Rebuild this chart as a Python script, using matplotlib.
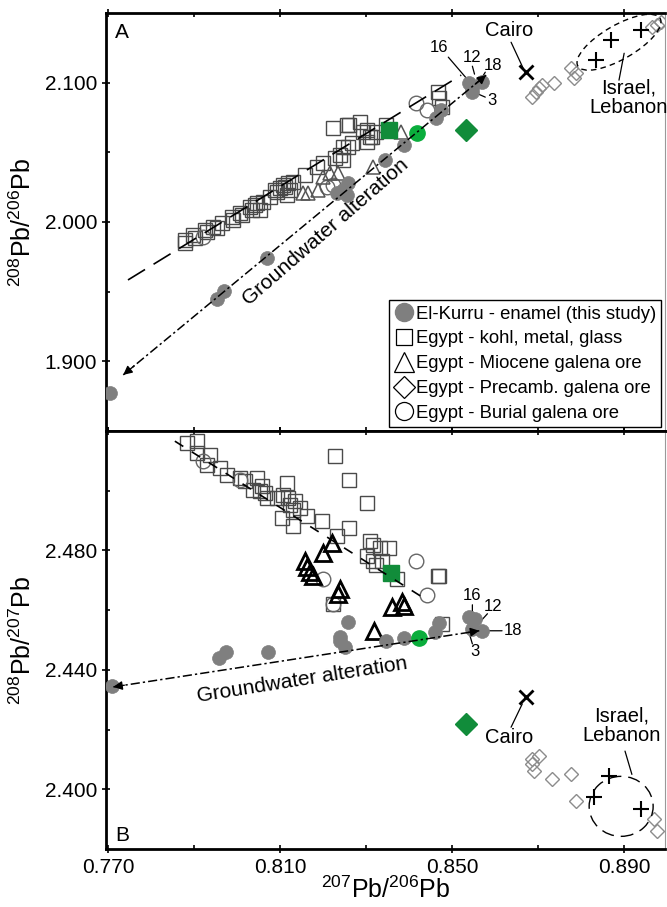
import matplotlib.pyplot as plt
import matplotlib.transforms as mtransforms
from matplotlib.patches import Ellipse
from matplotlib.lines import Line2D

plt.rcParams['font.family'] = ['Liberation Sans', 'DejaVu Sans']
plt.rcParams['mathtext.fontset'] = 'custom'
plt.rcParams['mathtext.rm'] = 'Liberation Sans'
plt.rcParams['mathtext.default'] = 'regular'

# ---------------- Panel A: 208Pb/206Pb mot 207Pb/206Pb ----------------
A_kurru_x = [0.7705, 0.7953, 0.7969, 0.8069, 0.8231, 0.8255, 0.8257, 0.8245, 0.8343, 0.8389,
             0.8463, 0.8475, 0.8540, 0.8547, 0.8570, 0.8545]
A_kurru_y = [1.8774, 1.9448, 1.9505, 1.9742, 2.0208, 2.0194, 2.0280, 2.0229, 2.0444, 2.0552,
             2.0746, 2.0803, 2.0996, 2.0961, 2.1004, 2.0932]

A_kohl_x = [0.7879, 0.7879, 0.7897, 0.7902, 0.7925, 0.7930, 0.7944, 0.7953, 0.7965, 0.7988,
            0.7990, 0.8006, 0.8011, 0.8029, 0.8034, 0.8046, 0.8060, 0.8076, 0.8092, 0.8111,
            0.8118, 0.8129, 0.8106, 0.8122, 0.8115, 0.8157, 0.8185, 0.8199, 0.8227, 0.8238,
            0.8257, 0.8268, 0.8222, 0.8261, 0.8255, 0.8285, 0.8301, 0.8313, 0.8347, 0.8245,
            0.8245, 0.8292, 0.8308, 0.8324, 0.8301, 0.8466, 0.8470, 0.8477,
            0.8087, 0.8099, 0.8041, 0.8053]
A_kohl_y = [1.9871, 1.9849, 1.9907, 1.9885, 1.9943, 1.9928, 1.9964, 1.9957, 1.9993, 2.0036,
            2.0014, 2.0065, 2.0050, 2.0108, 2.0086, 2.0136, 2.0143, 2.0179, 2.0215, 2.0251,
            2.0280, 2.0287, 2.0265, 2.0229, 2.0194, 2.0337, 2.0394, 2.0423, 2.0459, 2.0480,
            2.0538, 2.0566, 2.0674, 2.0695, 2.0695, 2.0717, 2.0659, 2.0609, 2.0695, 2.0538,
            2.0444, 2.0645, 2.0609, 2.0645, 2.0573, 2.0932, 2.0889, 2.0824,
            2.0229, 2.0244, 2.0122, 2.0086]

A_mio_x = [0.8152, 0.8164, 0.8187, 0.8199, 0.8215, 0.8234, 0.8382, 0.8315]
A_mio_y = [2.0208, 2.0208, 2.0229, 2.0323, 2.0351, 2.0351, 2.0645, 2.0394]

A_pre_x = [0.8686, 0.8695, 0.8702, 0.8709, 0.8737, 0.8777, 0.8788, 0.8784, 0.8976, 0.8985, 0.8964]
A_pre_y = [2.0896, 2.0932, 2.0961, 2.0982, 2.0996, 2.1104, 2.1068, 2.1032, 2.1412, 2.1434, 2.1398]

A_bur_x = [0.8417, 0.8442, 0.8208, 0.8222, 0.7920]
A_bur_y = [2.0853, 2.0803, 2.0251, 2.0265, 1.9892]

A_green_sq = (0.8354, 2.0659)
A_green_ci = (0.8419, 2.0638)
A_green_di = (0.8533, 2.0659)
A_cairo = (0.8672, 2.1075)
A_plus_x = [0.8835, 0.8869, 0.8939]
A_plus_y = [2.1161, 2.1305, 2.1376]

# ---------------- Panel B: 208Pb/207Pb mot 207Pb/206Pb ----------------
B_kurru_x = [0.7709, 0.7958, 0.7974, 0.8071, 0.8238, 0.8250, 0.8257, 0.8238, 0.8347, 0.8389,
             0.8459, 0.8470, 0.8540, 0.8552, 0.8570, 0.8545]
B_kurru_y = [2.4346, 2.4440, 2.4461, 2.4461, 2.4497, 2.4477, 2.4561, 2.4511, 2.4497, 2.4508,
             2.4528, 2.4558, 2.4578, 2.4571, 2.4531, 2.4538]

B_kohl_x = [0.7883, 0.7906, 0.7906, 0.7937, 0.7930, 0.7960, 0.7976, 0.8006, 0.8018, 0.8046,
            0.8036, 0.8053, 0.8069, 0.8092, 0.8106, 0.8115, 0.8122, 0.8129, 0.8104, 0.8129,
            0.8162, 0.8197, 0.8231, 0.8261, 0.8227, 0.8261, 0.8301, 0.8308, 0.8315, 0.8331,
            0.8354, 0.8301, 0.8315, 0.8324, 0.8336, 0.8371, 0.8466, 0.8470, 0.8222, 0.8477,
            0.8057, 0.8064, 0.8134, 0.8145, 0.8118]
B_kohl_y = [2.5160, 2.5166, 2.5126, 2.5119, 2.5086, 2.5076, 2.5052, 2.5042, 2.5032, 2.5042,
            2.5002, 2.4998, 2.4975, 2.4975, 2.4985, 2.5025, 2.4951, 2.4934, 2.4908, 2.4881,
            2.4914, 2.4897, 2.4847, 2.4874, 2.5116, 2.5035, 2.4958, 2.4830, 2.4817, 2.4807,
            2.4807, 2.4783, 2.4763, 2.4750, 2.4766, 2.4706, 2.4716, 2.4713, 2.4622, 2.4555,
            2.5015, 2.4992, 2.4965, 2.4941, 2.4975]

B_mio_x = [0.8157, 0.8162, 0.8169, 0.8176, 0.8199, 0.8220, 0.8238, 0.8234, 0.8361, 0.8384, 0.8389, 0.8319]
B_mio_y = [2.4763, 2.4746, 2.4729, 2.4713, 2.4790, 2.4824, 2.4672, 2.4655, 2.4612, 2.4629, 2.4615, 2.4531]

B_pre_x = [0.8686, 0.8702, 0.8686, 0.8691, 0.8732, 0.8777, 0.8788, 0.8969, 0.8976]
B_pre_y = [2.4101, 2.4111, 2.4084, 2.4061, 2.4034, 2.4050, 2.3960, 2.3899, 2.3859]

B_bur_x = [0.8417, 0.8442, 0.8199, 0.7920, 0.8006, 0.8222]
B_bur_y = [2.4763, 2.4652, 2.4706, 2.5099, 2.5035, 2.4622]

B_green_sq = (0.8357, 2.4723)
B_green_ci = (0.8422, 2.4508)
B_green_di = (0.8533, 2.4218)
B_cairo = (0.8672, 2.4309)
B_plus_x = [0.8865, 0.8830, 0.8939]
B_plus_y = [2.4044, 2.3973, 2.3933]

GRA = '#7f7f7f'
GRONN = '#118c3a'
GRONN_LYS = '#0aad3c'

fig = plt.figure(figsize=(6.67, 9.07), dpi=100)
axA = fig.add_axes([0.159, 0.5248, 0.838, 0.4609])
axB = fig.add_axes([0.159, 0.0639, 0.838, 0.4609])


def tegn_punkter(ax, kurru, kohl, mio, pre, bur, gsq, gci, gdi, cairo, pluss, tykk_trekant):
    ax.plot(kohl[0], kohl[1], 's', ms=10.5, mfc='none', mec='#4a4a4a', mew=1.0, zorder=2)
    ax.plot(bur[0], bur[1], 'o', ms=10.5, mfc='none', mec='#666666', mew=1.0, zorder=2)
    if tykk_trekant:
        ax.plot(mio[0], mio[1], '^', ms=11, mfc='none', mec='k', mew=2.0, zorder=3)
    else:
        ax.plot(mio[0], mio[1], '^', ms=10.5, mfc='none', mec='#555555', mew=1.1, zorder=3)
    ax.plot(pre[0], pre[1], 'D', ms=7.5, mfc='none', mec='#8c8c8c', mew=1.0, zorder=2)
    ax.plot(kurru[0], kurru[1], 'o', ms=10, mfc=GRA, mec=GRA, mew=0.5, zorder=4)
    ax.plot(pluss[0], pluss[1], '+', ms=12, mec='k', mew=1.5, zorder=4)
    ax.plot(cairo[0], cairo[1], 'x', ms=10, mec='k', mew=2.0, zorder=4)
    ax.plot(gsq[0], gsq[1], 's', ms=12, mfc=GRONN, mec=GRONN, zorder=5)
    ax.plot(gci[0], gci[1], 'o', ms=11, mfc=GRONN_LYS, mec=GRONN_LYS, zorder=5)
    ax.plot(gdi[0], gdi[1], 'D', ms=11, mfc=GRONN, mec=GRONN, zorder=5)


def pil_linje(ax, p0, p1):
    # strek-prikk linje med pilspiss i begge ender
    ax.plot([p0[0], p1[0]], [p0[1], p1[1]], color='k', lw=1.1, dashes=(6, 2, 1.5, 2), zorder=6)
    for a, b in [(p0, p1), (p1, p0)]:
        bak = (b[0] - 0.03 * (b[0] - a[0]), b[1] - 0.03 * (b[1] - a[1]))
        ax.annotate('', xy=b, xytext=bak,
                    arrowprops=dict(arrowstyle='-|>', color='k', lw=1.0, mutation_scale=13,
                                    shrinkA=0, shrinkB=0), zorder=6)


def etikett(ax, tekst, pos, fra, til, size=14.5):
    ax.text(pos[0], pos[1], tekst, ha='center', va='center', fontsize=size, zorder=7,
            linespacing=1.05)
    ax.annotate('', xy=til, xytext=fra,
                arrowprops=dict(arrowstyle='-', color='k', lw=0.9, shrinkA=0, shrinkB=0))


def ellipse(ax, senter, b, h, vinkel, strek):
    trans = fig.dpi_scale_trans + mtransforms.ScaledTranslation(senter[0], senter[1], ax.transData)
    e = Ellipse((0, 0), width=b, height=h, angle=vinkel, transform=trans, fill=False,
                lw=1.0, ls=(0, strek), ec='k', zorder=6)
    ax.add_patch(e)


"""Panel A"""
tegn_punkter(axA, (A_kurru_x, A_kurru_y), (A_kohl_x, A_kohl_y), (A_mio_x, A_mio_y),
             (A_pre_x, A_pre_y), (A_bur_x, A_bur_y), A_green_sq, A_green_ci, A_green_di,
             A_cairo, (A_plus_x, A_plus_y), False)
axA.plot([0.7746, 0.8521], [1.9584, 2.1054], color='k', lw=1.2, dashes=(12, 6), zorder=6)
pil_linje(axA, (0.7735, 1.8903), (0.8579, 2.1054))
axA.text(0.8206, 1.9925, 'Groundwater alteration', rotation=41, rotation_mode='anchor',
         ha='center', va='center', fontsize=15)
ellipse(axA, (0.8888, 2.1290), 0.95, 0.34, 30, (4, 3))
etikett(axA, 'Cairo', (0.8633, 2.1376), (0.8637, 2.1290), (0.8665, 2.1104))
etikett(axA, 'Israel,\nLebanon', (0.8911, 2.0889), (0.8888, 2.1018), (0.8900, 2.1211))
etikett(axA, '16', (0.8470, 2.1254), (0.8491, 2.1183), (0.8533, 2.1032), 12)
etikett(axA, '12', (0.8547, 2.1183), (0.8547, 2.1118), (0.8552, 2.1061), 12)
etikett(axA, '18', (0.8595, 2.1125), (0.8577, 2.1075), (0.8570, 2.1040), 12)
etikett(axA, '3', (0.8593, 2.0875), (0.8577, 2.0896), (0.8545, 2.0939), 12)
axA.text(0.016, 0.975, 'A', transform=axA.transAxes, ha='left', va='top', fontsize=15)

handles = [
    Line2D([], [], ls='none', marker='o', ms=13, mfc=GRA, mec=GRA),
    Line2D([], [], ls='none', marker='s', ms=12, mfc='none', mec='k', mew=0.9),
    Line2D([], [], ls='none', marker='^', ms=14, mfc='none', mec='k', mew=0.9),
    Line2D([], [], ls='none', marker='D', ms=11, mfc='none', mec='k', mew=0.9),
    Line2D([], [], ls='none', marker='o', ms=13, mfc='none', mec='k', mew=0.9),
]
navn = ['El-Kurru - enamel (this study)', 'Egypt - kohl, metal, glass',
        'Egypt - Miocene galena ore', 'Egypt - Precamb. galena ore', 'Egypt - Burial galena ore']
leg = axA.legend(handles, navn, loc='lower right', fontsize=13.3, frameon=True, fancybox=False,
                 edgecolor='k', framealpha=1, borderaxespad=0.2, borderpad=0.3,
                 handlelength=1.0, handletextpad=0.15, labelspacing=0.42)
leg.get_frame().set_linewidth(1.0)

"""Panel B"""
tegn_punkter(axB, (B_kurru_x, B_kurru_y), (B_kohl_x, B_kohl_y), (B_mio_x, B_mio_y),
             (B_pre_x, B_pre_y), (B_bur_x, B_bur_y), B_green_sq, B_green_ci, B_green_di,
             B_cairo, (B_plus_x, B_plus_y), True)
axB.plot([0.7855, 0.8429], [2.5166, 2.4645], color='k', lw=1.2, dashes=(6, 6), zorder=6)
pil_linje(axB, (0.7712, 2.4343), (0.8563, 2.4531))
axB.text(0.8152, 2.4368, 'Groundwater alteration', rotation=9, rotation_mode='anchor',
         ha='center', va='center', fontsize=15)
ellipse(axB, (0.8893, 2.3943), 0.64, 0.60, 0, (9, 5))
etikett(axB, 'Cairo', (0.8633, 2.4175), (0.8637, 2.4208), (0.8663, 2.4286))
etikett(axB, 'Israel,\nLebanon', (0.8895, 2.4212), (0.8902, 2.4128), (0.8918, 2.4050))
etikett(axB, '16', (0.8547, 2.4648), (0.8547, 2.4618), (0.8547, 2.4588), 12)
etikett(axB, '12', (0.8595, 2.4612), (0.8582, 2.4588), (0.8565, 2.4561), 12)
etikett(axB, '18', (0.8642, 2.4531), (0.8616, 2.4531), (0.8582, 2.4531), 12)
etikett(axB, '3', (0.8552, 2.4462), (0.8547, 2.4487), (0.8540, 2.4521), 12)
axB.text(0.016, 0.01, 'B', transform=axB.transAxes, ha='left', va='bottom', fontsize=15)

"""Akser"""
for ax in (axA, axB):
    ax.set_xlim(0.7695, 0.8995)
    ax.set_xticks([0.770, 0.810, 0.850, 0.890])
    ax.set_xticks([0.790, 0.830, 0.870], minor=True)
    for s in ('left', 'bottom', 'top'):
        ax.spines[s].set_linewidth(2.0)
    ax.spines['right'].set_linewidth(0.8)
    ax.spines['right'].set_color('#999999')
    ax.tick_params(which='major', direction='inout', length=6, width=1.2, labelsize=15,
                   top=True, right=False)
    ax.tick_params(which='minor', direction='in', length=3, width=1.2, top=True, right=False)

axA.set_ylim(1.850, 2.150)
axA.set_yticks([1.900, 2.000, 2.100])
axA.set_yticks([1.950, 2.050], minor=True)
axA.set_yticklabels(['1.900', '2.000', '2.100'])
axA.tick_params(labelbottom=False)
axA.set_ylabel('$^{208}$Pb/$^{206}$Pb', fontsize=18, labelpad=6)

axB.set_ylim(2.380, 2.520)
axB.set_yticks([2.400, 2.440, 2.480])
axB.set_yticks([2.420, 2.460, 2.500], minor=True)
axB.set_yticklabels(['2.400', '2.440', '2.480'])
axB.set_xticklabels(['0.770', '0.810', '0.850', '0.890'])
axB.set_ylabel('$^{208}$Pb/$^{207}$Pb', fontsize=18, labelpad=6)
axB.set_xlabel('$^{207}$Pb/$^{206}$Pb', fontsize=18, labelpad=0)

plt.savefig('out.png', dpi=100)
